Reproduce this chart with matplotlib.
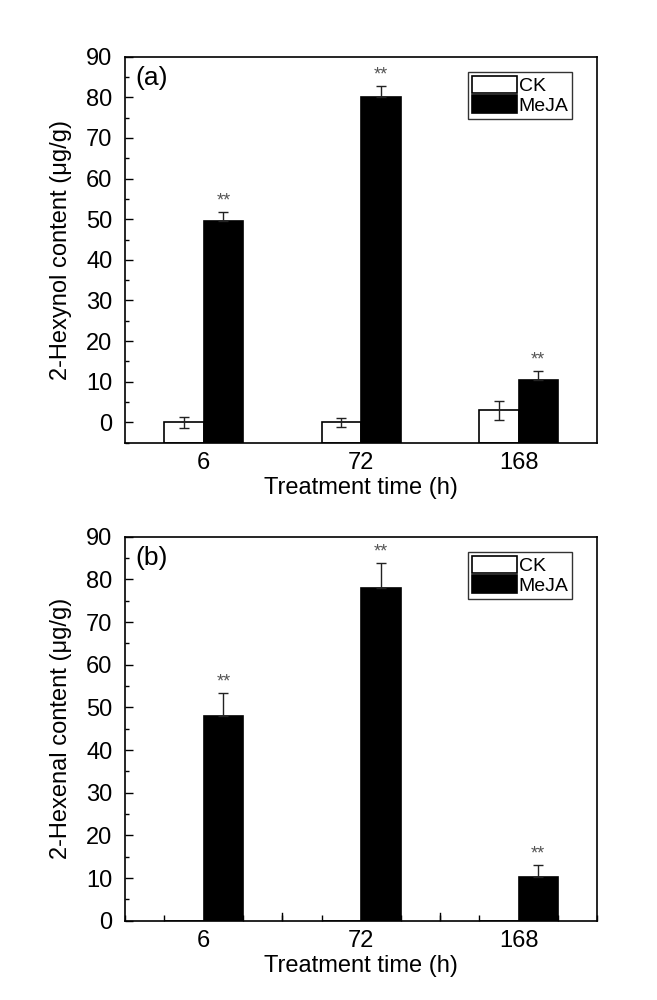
import matplotlib
matplotlib.use("Agg")
import matplotlib.pyplot as plt
from matplotlib.ticker import MultipleLocator
import numpy as np

plt.rcParams['font.family'] = ['Liberation Sans', 'DejaVu Sans']

categories = ["6", "72", "168"]
series_names = ["CK", "MeJA"]

hexynol_ck = [0.0, 0.0, 3.0]
hexynol_ck_err = [1.4, 1.2, 2.3]
hexynol_meja = [49.5, 80.1, 10.4]
hexynol_meja_err = [2.3, 2.7, 2.2]

hexenal_ck = [0.0, 0.0, 0.0]
hexenal_ck_err = [0.0, 0.0, 0.0]
hexenal_meja = [48.0, 78.0, 10.3]
hexenal_meja_err = [5.4, 5.8, 2.8]

fig = plt.figure(figsize=(6.57, 10), dpi=100)
W, H = 657, 1000
L, R = 125, 597.3
axA = fig.add_axes([L / W, 1 - 442.7 / H, (R - L) / W, (442.7 - 56.7) / H])
axB = fig.add_axes([L / W, 1 - 920.7 / H, (R - L) / W, (920.7 - 536.7) / H])


def panel(ax, ck, ckerr, meja, mejaerr, ylim, letter, ylabel, xticks_visible):
    x = np.arange(1, len(categories) + 1)
    w = 0.25
    base = ylim[0]
    ck = np.array(ck); meja = np.array(meja)
    ax.set_xlim(0.5, len(categories) + 0.5)
    ax.set_ylim(*ylim)
    ax.bar(x - w / 2, ck - base, bottom=base, width=w, color='white',
           edgecolor='black', linewidth=1.2, label=series_names[0], zorder=2)
    ax.bar(x + w / 2, meja - base, bottom=base, width=w, color='black',
           edgecolor='black', linewidth=1.2, label=series_names[1], zorder=2)
    if np.any(np.array(ckerr) > 0):
        ax.errorbar(x - w / 2, ck, yerr=ckerr, fmt='none', ecolor='#222222',
                    elinewidth=1.0, capsize=3.5, capthick=1.0, zorder=3)
    ax.errorbar(x + w / 2, meja, yerr=[np.zeros_like(meja), mejaerr], fmt='none',
                ecolor='#222222', elinewidth=1.0, capsize=3.5, capthick=1.0, zorder=3)
    for xi, v, e in zip(x + w / 2, meja, mejaerr):
        ax.text(xi, v + e + 0.6, "**", ha='center', va='bottom', fontsize=13,
                color='#555555')
    ax.yaxis.set_minor_locator(MultipleLocator(5))
    ax.set_yticks(np.arange(0, 91, 10))
    ax.tick_params(axis='y', which='major', direction='in', length=6, width=1.0,
                   labelsize=17, pad=9)
    ax.tick_params(axis='y', which='minor', direction='in', length=3, width=1.0)
    ax.tick_params(axis='y', which='both', right=False)
    ax.set_xticks(x)
    ax.set_xticklabels(categories, fontsize=17)
    ax.tick_params(axis='x', which='major', length=0, pad=7)
    if xticks_visible:
        ax.set_xticks(np.arange(0.5, len(categories) + 0.51, 0.25), minor=True)
        ax.tick_params(axis='x', which='minor', direction='in', length=4, width=1.0)
        for xm in np.arange(1.5, len(categories), 1.0):
            ax.axvline(xm, ymin=0, ymax=8 / 384, color='black', lw=1.0, zorder=1)
    for s in ax.spines.values():
        s.set_linewidth(1.2)
    ax.set_xlabel("Treatment time (h)", fontsize=17, labelpad=2)
    ax.set_ylabel(ylabel, fontsize=17, labelpad=10)
    ax.text(0.022, 0.975, letter, transform=ax.transAxes, fontsize=19,
            ha='left', va='top')
    leg = ax.legend(loc='upper right', bbox_to_anchor=(0.947, 0.96), fontsize=14,
                    handlelength=2.3, handleheight=1.0, handletextpad=0.1,
                    labelspacing=0.0, borderpad=0.2, borderaxespad=0.0,
                    fancybox=False, framealpha=1, edgecolor='#333333')
    leg.get_frame().set_linewidth(1.0)


panel(axA, hexynol_ck, hexynol_ck_err, hexynol_meja, hexynol_meja_err,
      (-5, 90), "(a)", "2-Hexynol content (μg/g)", False)
panel(axB, hexenal_ck, hexenal_ck_err, hexenal_meja, hexenal_meja_err,
      (0, 90), "(b)", "2-Hexenal content (μg/g)", True)

fig.savefig("out.png", dpi=100)
